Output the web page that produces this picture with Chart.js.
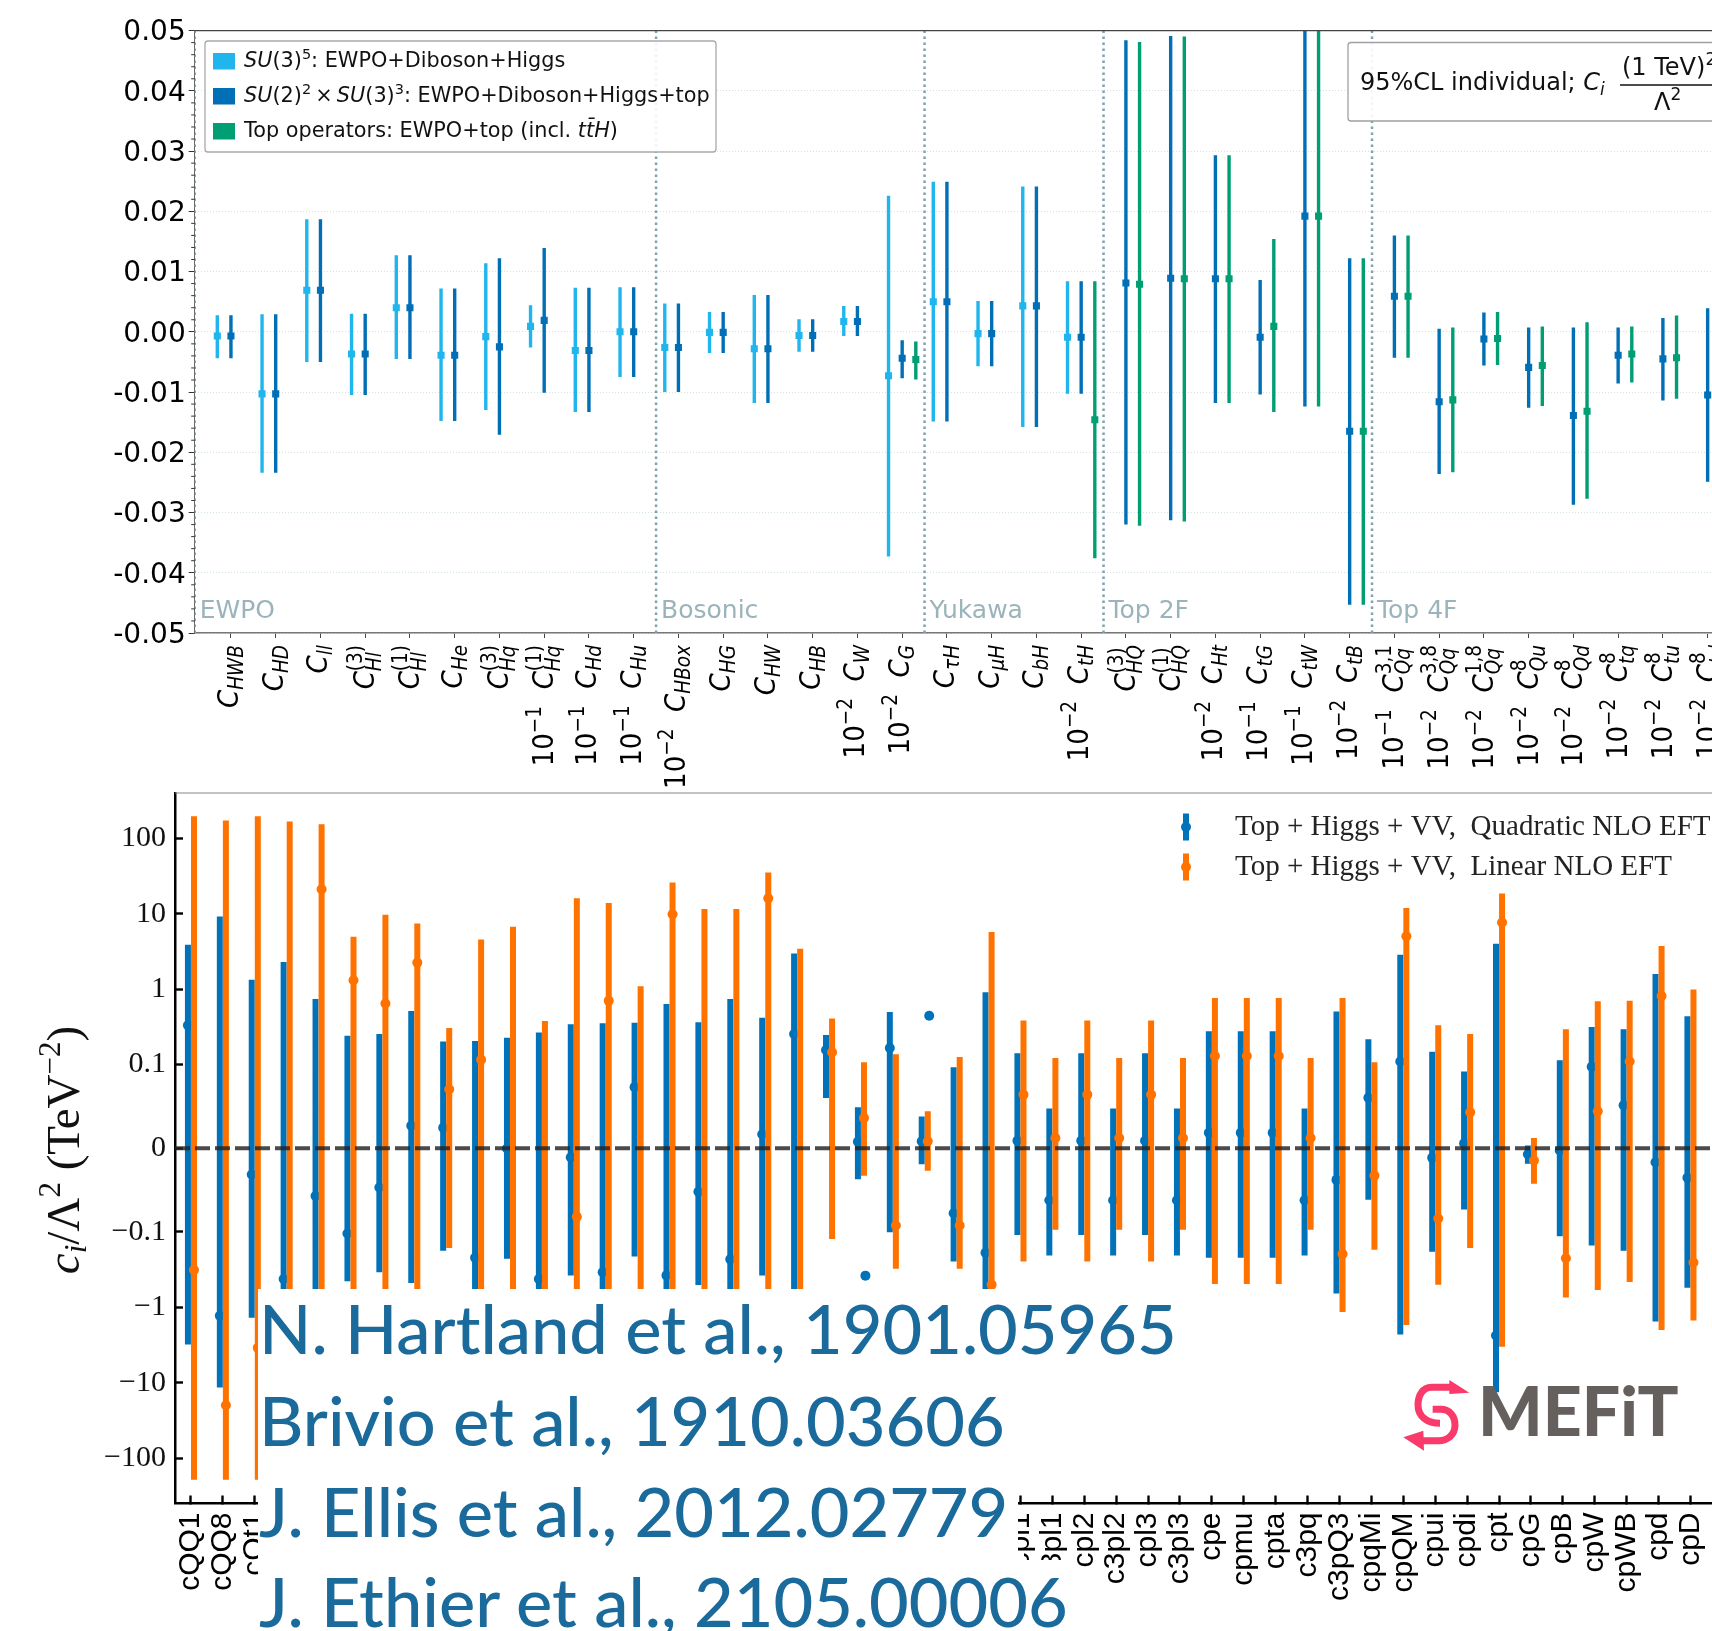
<!DOCTYPE html>
<html>
<head>
<meta charset="utf-8">
<title>SMEFT bounds</title>
<script src="https://cdn.jsdelivr.net/npm/chart.js@4/dist/chart.umd.js"></script>
<style>
    html, body { margin: 0; padding: 0; background: #fff; overflow: hidden; }
    #page { position: relative; width: 1712px; height: 1631px; overflow: hidden; background: #fff; }
    canvas { position: absolute; left: 0; }
    #topChart { top: 0; }
    #bottomChart { top: 790px; }
    .mask { position: absolute; background: #fff; }
    .cite { position: absolute; left: 259px; font: 500 68.5px/1 Lato, sans-serif; color: #1a6a9c; white-space: nowrap; }
    #logoText { position: absolute; left: 1478px; top: 1376px; font: 900 68px/1 Lato, sans-serif; color: #65605e; letter-spacing: 0; white-space: nowrap; }
    #logoMark { position: absolute; left: 1390px; top: 1370px; }
</style>
</head>
<body>
<div id="page">
    <canvas id="topChart" width="1760" height="792"></canvas>
    <canvas id="bottomChart" width="1760" height="841"></canvas>
    <div class="mask" style="left:257.5px;top:1289px;width:760px;height:342px"></div>
    <div class="mask" style="left:257.5px;top:1560px;width:815px;height:71px"></div>
    <div class="cite" style="top:1294px">N. Hartland et al., 1901.05965</div>
    <div class="cite" style="top:1386px">Brivio et al., 1910.03606</div>
    <div class="cite" style="top:1477px">J. Ellis et al., 2012.02779</div>
    <div class="cite" style="top:1567px">J. Ethier et al., 2105.00006</div>
    <svg id="logoMark" width="300" height="120" viewBox="0 0 900 360">
        <path d="M180 52 H125 C97 52 84 78 84 105 C84 140 112 160 150 160" fill="none" stroke="#f93a6b" stroke-width="21"/>
        <path d="M128 118 H152 C180 118 195 140 195 165 C195 195 172 212 145 212 H98" fill="none" stroke="#f93a6b" stroke-width="21"/>
        <polygon points="178,30 238,68 178,72" fill="#f93a6b"/>
        <polygon points="40,202 100,182 102,242" fill="#f93a6b"/>
    </svg>
    <div id="logoText">MEFiT</div>
</div>

<script>
// Upper panel: operators, plotted order
const topSubs = ['HWB', 'HD', 'll', 'Hl', 'Hl', 'He', 'Hq', 'Hq', 'Hd', 'Hu', 'HBox', 'HG', 'HW', 'HB', 'W', 'G',
    'τH', 'μH', 'bH', 'tH', 'HQ', 'HQ', 'Ht', 'tG', 'tW', 'tB', 'Qq', 'Qq', 'Qq', 'Qu', 'Qd', 'tq', 'tu', 'td'];
const topSups = ['', '', '', '(3)', '(1)', '', '(3)', '(1)', '', '', '', '', '', '', '', '',
    '', '', '', '', '(3)', '(1)', '', '', '', '', '3,1', '3,8', '1,8', '8', '8', '8', '8', '8'];
const topFactors = ['', '', '', '', '', '', '', '−1', '−1', '−1', '−2', '', '', '', '−2', '−2',
    '', '', '', '−2', '', '', '−2', '−1', '−1', '−2', '−1', '−2', '−2', '−2', '−2', '−2', '−2', '−2'];

// SU(3)^5: EWPO+Diboson+Higgs
const lightMid = [-0.0007, -0.0103, 0.0069, -0.0037, 0.0040, -0.0039, -0.0008, 0.0009, -0.0031, 0.0000, -0.0026, -0.0001, -0.0028, -0.0006, 0.0017, -0.0073, 0.0050, -0.0003, 0.0043, -0.0009];
const lightHi = [0.00275, 0.0029, 0.0187, 0.0030, 0.0127, 0.0072, 0.0114, 0.0044, 0.0073, 0.0074, 0.0047, 0.0033, 0.0061, 0.0021, 0.0043, 0.0226, 0.0249, 0.0051, 0.0241, 0.0084];
const lightLo = [-0.0044, -0.0234, -0.0050, -0.0105, -0.0045, -0.0148, -0.0130, -0.0026, -0.0133, -0.0075, -0.0100, -0.0035, -0.0118, -0.0033, -0.0007, -0.0373, -0.0149, -0.0057, -0.0158, -0.0103];

// SU(2)^2 x SU(3)^3: EWPO+Diboson+Higgs+top
const darkMid = [-0.0007, -0.0103, 0.0069, -0.0037, 0.0040, -0.0039, -0.0025, 0.0019, -0.0031, 0.0000, -0.0026, -0.0001, -0.0028, -0.0006, 0.0017, -0.0044, 0.0050, -0.0003, 0.0043, -0.0009,
    0.0081, 0.0089, 0.0088, -0.0009, 0.0192, -0.0165, 0.0059, -0.0116, -0.0012, -0.0059, -0.0139, -0.0039, -0.0045, -0.0105];
const darkHi = [0.00275, 0.0029, 0.0187, 0.0030, 0.0127, 0.0072, 0.0122, 0.0139, 0.0073, 0.0074, 0.0047, 0.0033, 0.0061, 0.0021, 0.0043, -0.0014, 0.0249, 0.0051, 0.0241, 0.0084,
    0.0484, 0.0491, 0.0293, 0.0086, 0.0512, 0.0122, 0.0160, 0.0005, 0.0032, 0.0007, 0.0007, 0.0007, 0.0023, 0.0039];
const darkLo = [-0.0044, -0.0234, -0.0050, -0.0105, -0.0045, -0.0148, -0.0171, -0.0101, -0.0133, -0.0075, -0.0100, -0.0035, -0.0118, -0.0033, -0.0007, -0.0077, -0.0149, -0.0057, -0.0158, -0.0103,
    -0.0320, -0.0313, -0.0118, -0.0104, -0.0124, -0.0453, -0.0043, -0.0236, -0.0056, -0.0126, -0.0287, -0.0086, -0.0114, -0.0249];

// Top operators: EWPO+top, starts at C_G
const greenIdx = [15, 19, 20, 21, 22, 23, 24, 25, 26, 27, 28, 29, 30, 31, 32];
const greenMid = [-0.0046, -0.0146, 0.0079, 0.0088, 0.0088, 0.0009, 0.0192, -0.0165, 0.0059, -0.0113, -0.0011, -0.0056, -0.0132, -0.0037, -0.0043];
const greenHi = [-0.0016, 0.0084, 0.0481, 0.0490, 0.0293, 0.0154, 0.0512, 0.0122, 0.0160, 0.0007, 0.0033, 0.0009, 0.0016, 0.0009, 0.0027];
const greenLo = [-0.0079, -0.0376, -0.0322, -0.0315, -0.0118, -0.0133, -0.0124, -0.0453, -0.0043, -0.0233, -0.0055, -0.0123, -0.0277, -0.0084, -0.0111];

const sectionEdges = [9.5, 15.5, 19.5, 25.5];
const sectionNames = ['EWPO', 'Bosonic', 'Yukawa', 'Top 2F', 'Top 4F'];
const topYTicks = [-0.05, -0.04, -0.03, -0.02, -0.01, 0, 0.01, 0.02, 0.03, 0.04, 0.05];

// Lower panel. Labels hidden behind the citation box are left empty
const bottomLabels = ['cQQ1', 'cQQ8', 'cQt1', '', '', '', '', '', '', '', '', '', '', '', '', '', '', '', '', '', '', '', '', '', '', '',
    'cpl1', 'c3pl1', 'cpl2', 'c3pl2', 'cpl3', 'c3pl3', 'cpe', 'cpmu', 'cpta', 'c3pq', 'c3pQ3', 'cpqMi', 'cpQM', 'cpui', 'cpdi', 'cpt', 'cpG', 'cpB', 'cpW', 'cpWB', 'cpd', 'cpD'];
const bottomYTicks = [-100, -10, -1, -0.1, 0, 0.1, 1, 10, 100];

// Top + Higgs + VV, quadratic
const blueMid = [0.331, -1.29, -0.0314, -0.42, -0.057, -0.105, -0.0468, 0.0269, 0.0244, -0.22, -0.0003, -0.42, -0.0109, -0.342, 0.073, -0.377, -0.052, -0.231, 0.0167, 0.255, 0.156, 0.0077, 0.166, 0.0083, -0.0776, -0.189,
    0.009, -0.0622, 0.009, -0.0622, 0.009, -0.0622, 0.0186, 0.0186, 0.0186, -0.0622, -0.0378, 0.0603, 0.110, -0.0115, 0.0058, -2.37, -0.0071, -0.0026, 0.0974, 0.0513, -0.0167, -0.0353];
const blueHi = [3.87, 9.2, 1.33, 2.29, 0.74, 0.242, 0.255, 0.515, 0.202, 0.206, 0.227, 0.267, 0.342, 0.353, 0.359, 0.636, 0.365, 0.74, 0.417, 2.97, 0.246, 0.049, 0.498, 0.0378, 0.0968, 0.91,
    0.141, 0.0474, 0.141, 0.0474, 0.141, 0.0474, 0.276, 0.276, 0.276, 0.0474, 0.506, 0.216, 2.87, 0.148, 0.0917, 3.99, 0.0032, 0.114, 0.315, 0.295, 1.59, 0.437];
const blueLo = [-3.12, -11.6, -1.38, -2.2, -0.8, -0.45, -0.342, -0.474, -0.177, -0.6, -0.227, -0.7, -0.377, -0.8, -0.212, -1, -0.506, -0.9, -0.377, -1, 0.060, -0.037, -0.101, -0.0192, -0.246, -0.8,
    -0.110, -0.206, -0.110, -0.206, -0.110, -0.206, -0.22, -0.22, -0.22, -0.206, -0.657, -0.0615, -2.29, -0.183, -0.0731, -13.4, -0.0186, -0.114, -0.151, -0.177, -1.54, -0.55];

// Top + Higgs + VV, linear
const orangeMid = [-0.32, -19.9, -3.45, -5, 21.2, 1.31, 0.647, 2.25, 0.0705, 0.116, -2, -0.9, -0.082, 0.70, -0.8, 9.84, -1, -0.7, 16.1, -1, 0.146, 0.036, -0.0923, 0.0083, -0.0923, -0.5,
    0.0641, 0.0122, 0.0641, 0.0122, 0.0641, 0.0122, 0.130, 0.130, 0.130, 0.0122, -0.196, -0.0327, 5.04, -0.084, 0.0429, 7.67, -0.0147, -0.223, 0.0442, 0.110, 0.814, -0.255];
const orangeHi = [197, 173, 197, 168, 154, 4.94, 9.68, 7.45, 0.305, 4.55, 6.75, 0.377, 16.1, 13.9, 1.09, 25.9, 11.6, 11.6, 35.3, 3.45, 0.409, 0.107, 0.137, 0.0442, 0.126, 5.73,
    0.384, 0.122, 0.384, 0.122, 0.384, 0.122, 0.764, 0.764, 0.764, 0.122, 0.764, 0.107, 11.97, 0.331, 0.255, 18.6, 0.0122, 0.295, 0.69, 0.70, 3.74, 0.99];
const orangeLo = [-194, -194, -194, -190, -100, -3, -8, -3, -0.163, -1.5, -6, -2, -20, -12, -2.6, -6, -10, -9, -5, -3, -0.124, -0.033, -0.309, -0.0269, -0.309, -6,
    -0.246, -0.0974, -0.246, -0.0974, -0.246, -0.0974, -0.49, -0.49, -0.49, -0.0974, -1.15, -0.172, -1.71, -0.50, -0.163, -3.33, -0.0423, -0.74, -0.59, -0.46, -2.0, -1.49];

// two blue points with no bar in the original
const strayX = [21.14, 23.14];
const strayY = [-0.38, 0.444];

const topColors = { light: '#20b5ec', dark: '#006fb6', green: '#009e73' };
const blueColor = '#0072b9';
const orangeColor = '#ff7200';

const sansFont = '"DejaVu Sans"';
const serifFont = '"Liberation Serif"';

// Segments separated by a null point, so a single line dataset gives all the bars
function barSegments(xs, hi, lo, shift) {
    let pts = [];
    xs.forEach((x, i) => {
        pts.push({ x: x + shift, y: lo[i] }, { x: x + shift, y: hi[i] }, { x: x + shift, y: null });
    });
    return pts;
}

function midPoints(xs, mid, shift) {
    return xs.map((x, i) => ({ x: x + shift, y: mid[i] }));
}

function barDataset(pts, color, width) {
    return { data: pts, showLine: true, borderColor: color, borderWidth: width, pointRadius: 0, spanGaps: false, borderCapStyle: 'butt' };
}

function pointDataset(pts, color, style, radius) {
    return { data: pts, showLine: false, backgroundColor: color, borderWidth: 0, pointStyle: style, pointRadius: radius };
}

function indexes(n) {
    return Array.from({ length: n }, (_, i) => i);
}

// The automatic padding is not wanted, the plot areas are fixed by hand
function noPadding(s) {
    s.paddingTop = 0;
    s.paddingBottom = 0;
    s.paddingLeft = 0;
    s.paddingRight = 0;
}

// Draws pieces of mathtext one after the other, returns the width used.
// A piece is {t, it, size, up} or a stack {sub, sup, size, subDown, supUp}
function richText(ctx, parts, x, y, size, family, measureOnly) {
    let cx = x;
    function setFont(sz, italic) {
        ctx.font = (italic ? 'italic ' : '') + sz + 'px ' + family;
    }
    parts.forEach(p => {
        if (p.sub !== undefined || p.sup !== undefined) {
            let sz = p.size || size * 0.7;
            setFont(sz, true);
            let w1 = p.sub ? ctx.measureText(p.sub).width : 0;
            if (p.sub && !measureOnly) ctx.fillText(p.sub, cx, y + (p.subDown || 0));
            setFont(sz, false);
            let w2 = p.sup ? ctx.measureText(p.sup).width : 0;
            if (p.sup && !measureOnly) ctx.fillText(p.sup, cx, y - (p.supUp || 0));
            cx += Math.max(w1, w2);
        } else {
            let sz = p.size || size;
            setFont(sz, p.it);
            if (!measureOnly) ctx.fillText(p.t, cx, y - (p.up || 0));
            cx += ctx.measureText(p.t).width;
        }
    });
    return cx - x;
}

// ---------- upper panel ----------
const topXMin = -0.81, topXMax = 34.17;
const allTop = indexes(topSubs.length);

const topDatasets = [
    pointDataset(midPoints(greenIdx, greenMid, 0.305), topColors.green, 'rect', 5),
    barDataset(barSegments(greenIdx, greenHi, greenLo, 0.305), topColors.green, 3.4),
    pointDataset(midPoints(allTop, darkMid, 0), topColors.dark, 'rect', 5),
    barDataset(barSegments(allTop, darkHi, darkLo, 0), topColors.dark, 3.4),
    pointDataset(midPoints(indexes(lightMid.length), lightMid, -0.305), topColors.light, 'rect', 5),
    barDataset(barSegments(indexes(lightMid.length), lightHi, lightLo, -0.305), topColors.light, 3.4),
    // section separators, also one on the left edge
    { data: [topXMin].concat(sectionEdges).flatMap(e => [{ x: e, y: -0.05 }, { x: e, y: 0.05 }, { x: e, y: null }]),
      showLine: true, borderColor: '#7fa2ab', borderWidth: 2.5, borderDash: [2.5, 3.5], pointRadius: 0, spanGaps: false }
];

const topDecor = {
    id: 'topDecor',
    afterDatasetsDraw(chart) {
        const ctx = chart.ctx, area = chart.chartArea, xs = chart.scales.x, ys = chart.scales.y;
        ctx.save();

        // top spine
        ctx.strokeStyle = '#444';
        ctx.lineWidth = 1.2;
        ctx.beginPath();
        ctx.moveTo(area.left, area.top);
        ctx.lineTo(area.right, area.top);
        ctx.stroke();

        // minor ticks
        ctx.strokeStyle = '#333';
        ctx.lineWidth = 1;
        for (let i = -25; i <= 25; i++) {
            if (i % 5 === 0) continue;
            let py = ys.getPixelForValue(i * 0.002);
            ctx.beginPath();
            ctx.moveTo(area.left - 3.5, py);
            ctx.lineTo(area.left, py);
            ctx.stroke();
        }

        // section names
        ctx.fillStyle = '#9bb4bb';
        ctx.font = '25px ' + sansFont;
        ctx.fillText(sectionNames[0], area.left + 5, 618);
        sectionEdges.forEach((e, i) => {
            ctx.fillText(sectionNames[i + 1], xs.getPixelForValue(e) + 5, 618);
        });

        // legend box
        ctx.beginPath();
        ctx.roundRect(205, 41, 511, 111, 3);
        ctx.fillStyle = 'rgba(255,255,255,0.88)';
        ctx.fill();
        ctx.strokeStyle = '#a9a9a9';
        ctx.lineWidth = 1.3;
        ctx.stroke();
        const swatches = [[topColors.light, 53], [topColors.dark, 88], [topColors.green, 123]];
        swatches.forEach(s => {
            ctx.fillStyle = s[0];
            ctx.fillRect(213, s[1], 22, 16.5);
        });
        ctx.fillStyle = '#111';
        const ls = 20.8, supSz = 14.5;
        richText(ctx, [{ t: 'SU', it: true }, { t: '(3)' }, { t: '5', size: supSz, up: 8.5 }, { t: ': EWPO+Diboson+Higgs' }], 244, 67, ls, sansFont);
        richText(ctx, [{ t: 'SU', it: true }, { t: '(2)' }, { t: '2', size: supSz, up: 8.5 }, { t: '\u2009×\u2009' }, { t: 'SU', it: true }, { t: '(3)' }, { t: '3', size: supSz, up: 8.5 }, { t: ': EWPO+Diboson+Higgs+top' }], 244, 102, ls, sansFont);
        richText(ctx, [{ t: 'Top operators: EWPO+top (incl. ' }, { t: 'tt\u0304H', it: true }, { t: ')' }], 244, 137, ls, sansFont);

        // annotation box, runs off the right edge
        ctx.beginPath();
        ctx.roundRect(1348, 42.5, 420, 78.5, 3);
        ctx.fillStyle = 'rgba(255,255,255,0.9)';
        ctx.fill();
        ctx.strokeStyle = '#a0a0a0';
        ctx.lineWidth = 1.3;
        ctx.stroke();
        ctx.fillStyle = '#111';
        richText(ctx, [{ t: '95%CL individual; ' }, { t: 'C', it: true }, { sub: 'i', size: 17, subDown: 5 }], 1360, 90, 24, sansFont);
        richText(ctx, [{ t: '(1' }, { t: ' TeV)' }, { t: '2', size: 17, up: 10 }], 1622, 75, 24, sansFont);
        richText(ctx, [{ t: 'Λ' }, { t: '2', size: 17, up: 10 }], 1654, 110, 24, sansFont);
        ctx.strokeStyle = '#111';
        ctx.lineWidth = 1.4;
        ctx.beginPath();
        ctx.moveTo(1620, 85);
        ctx.lineTo(1720, 85);
        ctx.stroke();

        // rotated tick labels with sub and superscripts, squeezed along the text like the original
        const baseSz = 29, smallSz = 20.5;
        topSubs.forEach((sub, i) => {
            let parts = [];
            if (topFactors[i]) {
                parts.push({ t: '10' }, { t: topFactors[i], size: smallSz, up: 12 }, { t: '  ' });
            }
            parts.push({ t: 'C', it: true });
            let sup = topSups[i];
            parts.push({ sub: sub, sup: sup, size: smallSz, subDown: sup ? 7 : 5, supUp: 12 });
            ctx.save();
            ctx.translate(xs.getPixelForValue(i) + (sup ? 9 : 7), 645);
            ctx.rotate(-Math.PI / 2);
            ctx.scale(0.9, 1);
            ctx.fillStyle = '#000';
            let w = richText(ctx, parts, 0, 0, baseSz, sansFont, true);
            richText(ctx, parts, -w, 0, baseSz, sansFont);
            ctx.restore();
        });

        ctx.restore();
    }
};

new Chart(document.getElementById('topChart'), {
    type: 'scatter',
    data: { datasets: topDatasets },
    options: {
        responsive: false,
        animation: false,
        layout: { autoPadding: false, padding: { top: 30.6, left: 0, right: 0, bottom: 0 } },
        plugins: { legend: { display: false }, tooltip: { enabled: false } },
        scales: {
            x: {
                type: 'linear', min: topXMin, max: topXMax,
                afterBuildTicks: s => { s.ticks = allTop.map(v => ({ value: v })); },
                afterFit: s => { s.height = 792 - 633; noPadding(s); },
                grid: { drawOnChartArea: false, tickLength: 5, tickColor: '#444', tickWidth: 1 },
                border: { color: '#777', width: 1.5 },
                ticks: { callback: () => '', autoSkip: false, maxRotation: 0 }
            },
            y: {
                type: 'linear', min: -0.05, max: 0.05,
                afterBuildTicks: s => { s.ticks = topYTicks.map(v => ({ value: v })); },
                afterFit: s => { s.width = 194.7; noPadding(s); },
                grid: { color: '#d3e3e0', tickLength: 6, tickColor: '#333', tickWidth: 1 },
                border: { color: '#666', width: 1, dash: [1, 2] },
                ticks: { callback: v => v.toFixed(2), color: '#000', font: { family: sansFont, size: 28 }, padding: 3, labelOffset: 2.5, autoSkip: false }
            }
        }
    },
    plugins: [topDecor]
});

// ---------- lower panel ----------
const linThresh = 0.1, linScale = 1.11;

function symlog(v) {
    let a = Math.abs(v);
    let f = a <= linThresh ? linScale * a / linThresh : linScale + Math.log10(a / linThresh);
    return v < 0 ? -f : f;
}

function symexp(f) {
    let a = Math.abs(f);
    let v = a <= linScale ? a * linThresh / linScale : linThresh * Math.pow(10, a - linScale);
    return f < 0 ? -v : v;
}

class SymlogScale extends Chart.LinearScale {
    getPixelForValue(value) {
        if (value === null || isNaN(value)) return NaN;
        let lo = symlog(this.min), hi = symlog(this.max);
        return this.getPixelForDecimal((symlog(value) - lo) / (hi - lo));
    }
    getValueForPixel(pixel) {
        let lo = symlog(this.min), hi = symlog(this.max);
        return symexp(lo + this.getDecimalForPixel(pixel) * (hi - lo));
    }
}
SymlogScale.id = 'symlog';
SymlogScale.defaults = Chart.LinearScale.defaults;
Chart.register(SymlogScale);

const bottomXMin = -0.5, bottomXMax = 49.18;
const allBottom = indexes(bottomLabels.length);

const bottomDatasets = [
    { data: [{ x: bottomXMin, y: 0 }, { x: bottomXMax, y: 0 }], showLine: true, borderColor: 'rgba(35,35,35,0.82)', borderWidth: 4, borderDash: [15, 5], pointRadius: 0 },
    pointDataset(midPoints(allBottom, orangeMid, 0.095), orangeColor, 'circle', 5),
    barDataset(barSegments(allBottom, orangeHi, orangeLo, 0.095), orangeColor, 6),
    pointDataset(strayX.map((x, i) => ({ x: x, y: strayY[i] })), blueColor, 'circle', 5),
    pointDataset(midPoints(allBottom, blueMid, -0.095), blueColor, 'circle', 5),
    barDataset(barSegments(allBottom, blueHi, blueLo, -0.095), blueColor, 6)
];

const bottomDecor = {
    id: 'bottomDecor',
    afterDatasetsDraw(chart) {
        const ctx = chart.ctx, area = chart.chartArea;
        ctx.save();

        // thin top spine
        ctx.strokeStyle = '#888';
        ctx.lineWidth = 1.2;
        ctx.beginPath();
        ctx.moveTo(area.left, area.top);
        ctx.lineTo(area.right, area.top);
        ctx.stroke();

        // legend (positions in canvas px, canvas starts at y=790)
        const keys = [[blueColor, 37, 'Top + Higgs + VV,  Quadratic NLO EFT'], [orangeColor, 77, 'Top + Higgs + VV,  Linear NLO EFT']];
        keys.forEach(k => {
            ctx.fillStyle = k[0];
            ctx.fillRect(1183, k[1] - 13.5, 6, 27);
            ctx.beginPath();
            ctx.arc(1186, k[1], 5, 0, Math.PI * 2);
            ctx.fill();
            ctx.fillStyle = '#222';
            ctx.font = '29px ' + serifFont;
            ctx.fillText(k[2], 1235, k[1] + 8);
        });

        // y axis title
        ctx.save();
        ctx.translate(79, 360);
        ctx.rotate(-Math.PI / 2);
        ctx.fillStyle = '#111';
        const parts = [{ t: 'c', it: true }, { sub: 'i', size: 31, subDown: 7 }, { t: '/Λ' }, { t: '2', size: 31, up: 19 }, { t: ' (TeV' }, { t: '−2', size: 31, up: 19 }, { t: ')' }];
        let w = richText(ctx, parts, 0, 0, 47, serifFont, true);
        richText(ctx, parts, -w / 2, 0, 47, serifFont);
        ctx.restore();

        ctx.restore();
    }
};

new Chart(document.getElementById('bottomChart'), {
    type: 'scatter',
    data: { datasets: bottomDatasets },
    options: {
        responsive: false,
        animation: false,
        layout: { autoPadding: false, padding: { top: 3, left: 0, right: 0, bottom: 0 } },
        plugins: { legend: { display: false }, tooltip: { enabled: false } },
        scales: {
            x: {
                type: 'linear', min: bottomXMin, max: bottomXMax,
                afterBuildTicks: s => { s.ticks = allBottom.map(v => ({ value: v })); },
                afterFit: s => { s.height = 127.5; noPadding(s); },
                grid: { drawOnChartArea: false, tickLength: -8, tickColor: '#000', tickWidth: 2.4 },
                border: { color: '#000', width: 2.5 },
                ticks: { callback: v => bottomLabels[v], color: '#000', font: { family: '"Liberation Sans"', size: 30 }, padding: 17, autoSkip: false, minRotation: 90, maxRotation: 90 }
            },
            y: {
                type: 'symlog', min: -400, max: 400,
                afterBuildTicks: s => { s.ticks = bottomYTicks.map(v => ({ value: v })); },
                afterFit: s => { s.width = 175; noPadding(s); },
                grid: { drawOnChartArea: false, tickLength: -8, tickColor: '#000', tickWidth: 2.4 },
                border: { color: '#000', width: 2.5 },
                ticks: { callback: v => String(v).replace('-', '−'), color: '#111', font: { family: serifFont, size: 30 }, padding: 17, autoSkip: false }
            }
        }
    },
    plugins: [bottomDecor]
});
</script>
</body>
</html>
